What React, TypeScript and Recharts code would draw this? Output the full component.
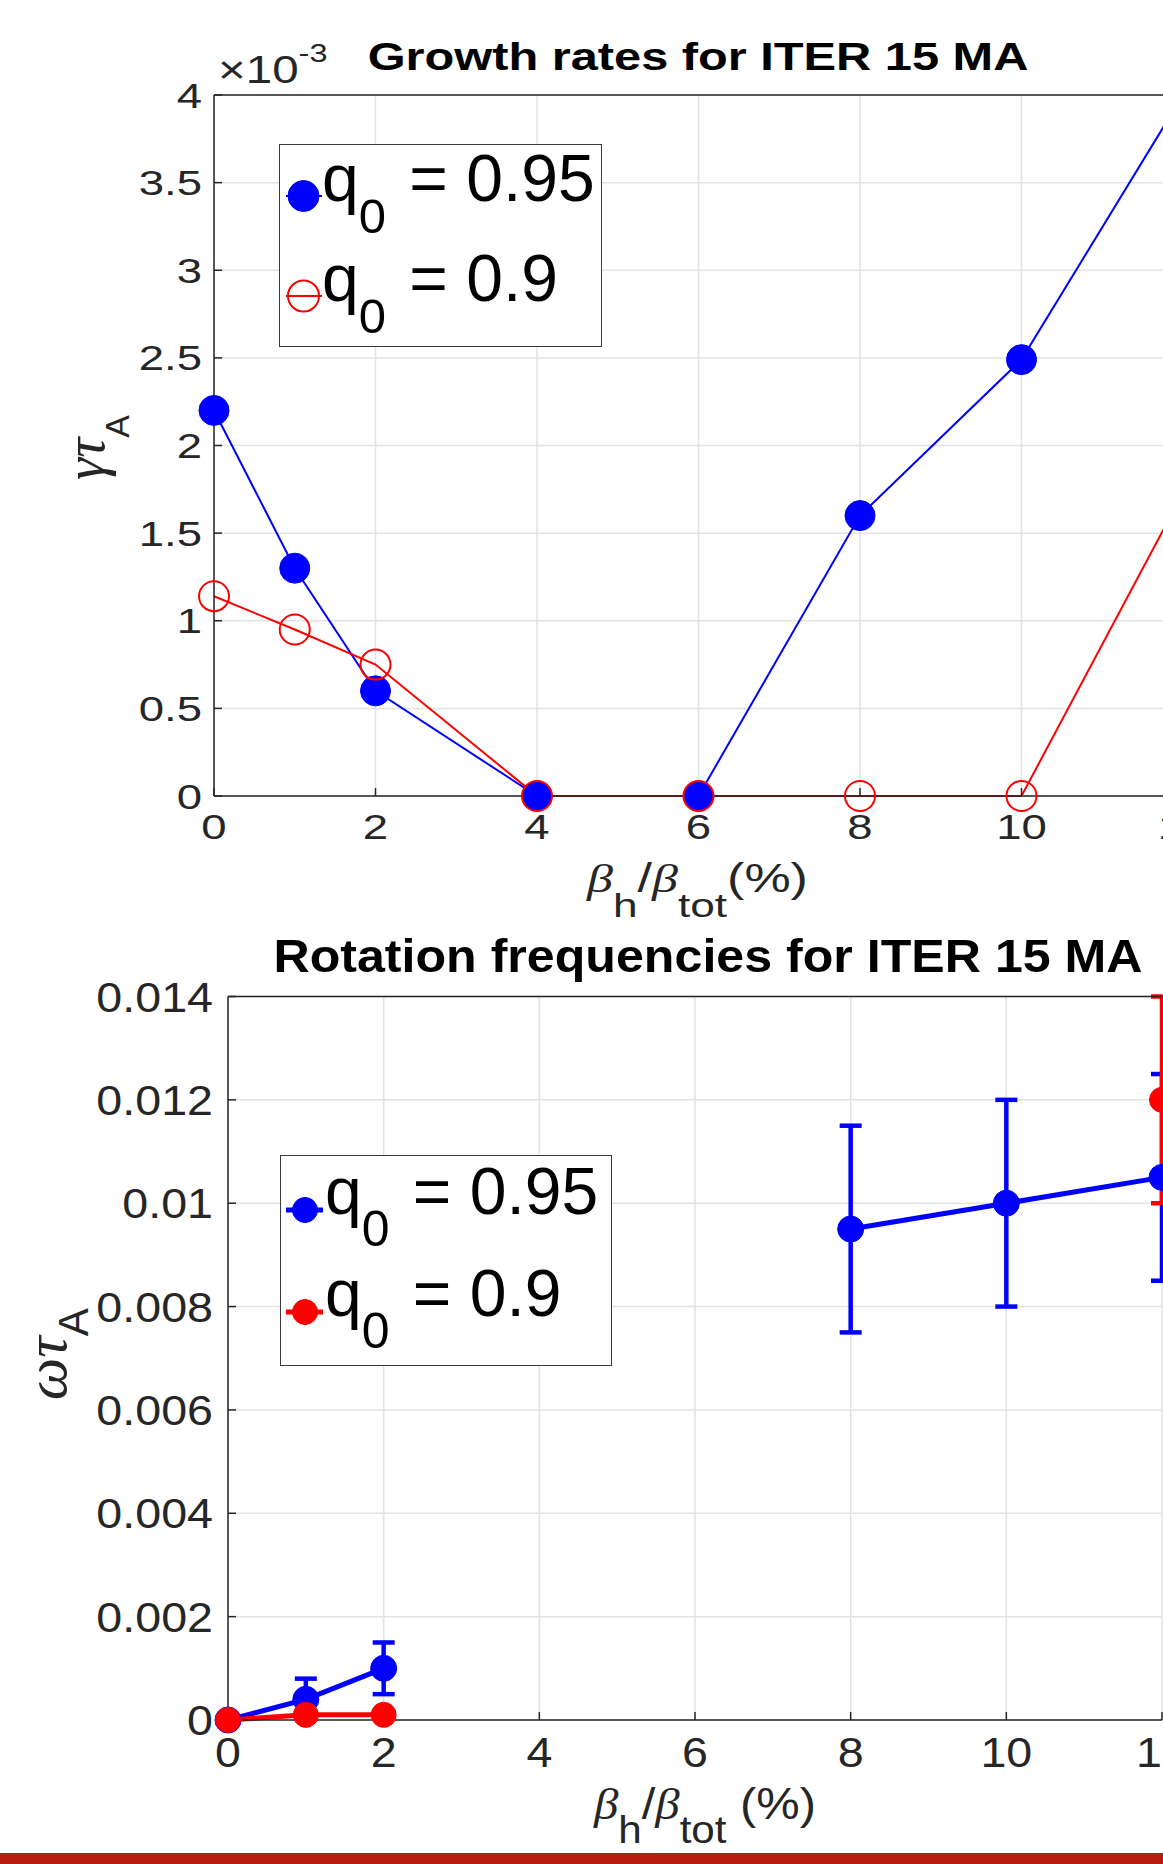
import { LineChart, Line, XAxis, YAxis, CartesianGrid, ErrorBar, Legend, Label } from "recharts";

const SANS = '"Liberation Sans", Arial, Helvetica, sans-serif';
const SERIF = '"Liberation Serif", "DejaVu Serif", serif';
const INK = "#262626";
const GRID = "#e3e3e3";
const BLUE = "#0000ff";
const RED = "#ff0000";

// growth rates (gamma * tau_A, in units of 1e-3)
const betaGrowth = [0, 1, 2, 4, 6, 8, 10, 12];
const gammaQ095 = [2.2, 1.3, 0.6, 0, 0, 1.6, 2.49, 4.0];
const gammaQ090 = [1.14, 0.95, 0.75, 0, 0, 0, 0, 1.73];

// rotation frequencies (omega * tau_A) with symmetric error bars
const betaRot = [0, 1, 2, 4, 6, 8, 10, 12];
const omegaQ095 = [0, 0.0004, 0.001, null, null, 0.0095, 0.01, 0.0105];
const omegaQ095Err = [0, 0.0004, 0.0005, null, null, 0.002, 0.002, 0.002];
const omegaQ090 = [0, 0.0001, 0.0001, null, null, null, null, 0.012];
const omegaQ090Err = [0, 0, 0, null, null, null, null, 0.002];

const xTicks = [0, 2, 4, 6, 8, 10, 12];
const gammaTicks = [0, 0.5, 1, 1.5, 2, 2.5, 3, 3.5, 4];
const omegaTicks = [0, 0.002, 0.004, 0.006, 0.008, 0.01, 0.012, 0.014];

const nameQ095 = "q_0 = 0.95";
const nameQ090 = "q_0 = 0.9";
const legendOrder = ["q095", "q090"];

const growthRows = betaGrowth.map((b, i) => ({ beta: b, q095: gammaQ095[i], q090: gammaQ090[i] }));
const rotRows = betaRot.map((b, i) => ({
  beta: b,
  q095: omegaQ095[i],
  q095Err: omegaQ095Err[i],
  q090: omegaQ090[i],
  q090Err: omegaQ090Err[i],
}));

const yTick = (size: number, sx: number, fmt: (v: number) => string) => (p: any) => (
  <g transform={`translate(${p.x},${p.y})`}>
    <text transform={`scale(${sx},1)`} textAnchor="end" dy="0.36em" fontSize={size} fontFamily={SANS} fill={INK}>
      {fmt(p.payload.value)}
    </text>
  </g>
);

const xTick = (size: number, sx: number) => (p: any) => (
  <g transform={`translate(${p.x},${p.y})`}>
    <text transform={`scale(${sx},1)`} textAnchor="middle" dy="0.72em" fontSize={size} fontFamily={SANS} fill={INK}>
      {p.payload.value}
    </text>
  </g>
);

const betaLabel = (dx: number, dy: number, size: number, sub: number, shift: number, sx: number, tail: string) => (p: any) => {
  const vb = p.viewBox || {};
  return (
    <g transform={`translate(${vb.x + dx},${vb.y + dy}) scale(${sx},1)`}>
      <text textAnchor="middle" fontSize={size} fontFamily={SANS} fill={INK} style={{ whiteSpace: "pre" }}>
        <tspan fontFamily={SERIF} fontStyle="italic">β</tspan>
        <tspan fontSize={sub} dy={shift}>h</tspan>
        <tspan dy={-shift}>/</tspan>
        <tspan fontFamily={SERIF} fontStyle="italic">β</tspan>
        <tspan fontSize={sub} dy={shift}>tot</tspan>
        <tspan dy={-shift}>{tail}</tspan>
      </text>
    </g>
  );
};

const yLabel = (greek: string, fromRight: number, dyc: number, size: number, sub: number, shift: number) => (p: any) => {
  const vb = p.viewBox || {};
  return (
    <g transform={`translate(${vb.x + vb.width - fromRight},${vb.y + vb.height / 2 + dyc}) rotate(-90)`}>
      <text textAnchor="middle" fontSize={size} fontFamily={SERIF} fill={INK}>
        <tspan fontStyle="italic">{greek}</tspan>
        <tspan fontFamily={SANS} fontSize={sub} dy={shift}>A</tspan>
      </text>
    </g>
  );
};

const titleLabel = (text: string, dx: number, dy: number, size: number, sx: number) => (p: any) => {
  const vb = p.viewBox || {};
  return (
    <g transform={`translate(${vb.x + dx},${vb.y + vb.height + dy}) scale(${sx},1)`}>
      <text textAnchor="middle" fontSize={size} fontWeight="bold" fontFamily={SANS} fill="#000">
        {text}
      </text>
    </g>
  );
};

const exponentLabel = (p: any) => {
  const vb = p.viewBox || {};
  return (
    <g transform={`translate(${vb.x + 4},${vb.y + vb.height - 12}) scale(1.25,1)`}>
      <text fontSize={38} fontFamily={SANS} fill={INK}>
        <tspan>×10</tspan>
        <tspan fontSize={26} dy={-21}>-3</tspan>
      </text>
    </g>
  );
};

const LegendText = ({ x, y, label, size, sub, shift }: any) => {
  const [base, rest] = label.split("_");
  const subChar = rest.slice(0, 1);
  const tail = rest.slice(1);
  return (
    <text x={x} y={y} fontSize={size} fontFamily={SANS} fill="#000" style={{ whiteSpace: "pre" }}>
      <tspan>{base}</tspan>
      <tspan fontSize={sub} dy={shift}>{subChar}</tspan>
      <tspan dy={-shift} dx={5}>{tail}</tspan>
    </text>
  );
};

const ordered = (payload: any[]) =>
  [...(payload || [])].sort((a, b) => legendOrder.indexOf(a.dataKey) - legendOrder.indexOf(b.dataKey));

const growthLegend = (props: any) => {
  const items = ordered(props.payload);
  return (
    <div style={{ width: 321, height: 201, border: "1.5px solid #3a3a3a", background: "#fff" }}>
      <svg width={321} height={201} style={{ overflow: "visible" }}>
        {items.map((it: any, i: number) => {
          const cy = 51 + i * 100;
          const filled = it.dataKey === "q095";
          return (
            <g key={it.value}>
              <line x1={6} x2={42} y1={cy} y2={cy} stroke={it.color} strokeWidth={2} />
              <circle cx={23.5} cy={cy} r={15.5} fill={filled ? it.color : "none"} stroke={it.color} strokeWidth={filled ? 1 : 2} />
              <LegendText x={42} y={cy + 5} label={it.value} size={66} sub={49} shift={32} />
            </g>
          );
        })}
      </svg>
    </div>
  );
};

const rotLegend = (props: any) => {
  const items = ordered(props.payload);
  return (
    <div style={{ width: 330, height: 209, border: "1.5px solid #3a3a3a", background: "#fff" }}>
      <svg width={330} height={209} style={{ overflow: "visible" }}>
        {items.map((it: any, i: number) => {
          const cy = 54 + i * 102;
          return (
            <g key={it.value}>
              <line x1={5} x2={42} y1={cy} y2={cy} stroke={it.color} strokeWidth={5} />
              <circle cx={24} cy={cy} r={12.5} fill={it.color} stroke={it.color} />
              <LegendText x={44} y={cy + 4} label={it.value} size={66} sub={50} shift={32} />
            </g>
          );
        })}
      </svg>
    </div>
  );
};

export default function App() {
  return (
    <div style={{ position: "relative", width: 1163, height: 1864, overflow: "hidden", background: "#fff" }}>
      <style>{"body{margin:0}"}</style>

      <div style={{ position: "absolute", left: 0, top: 0 }}>
        <LineChart width={1220} height={930} data={growthRows} margin={{ top: 94, right: 37, bottom: 0, left: 0 }}>
          <CartesianGrid stroke={GRID} strokeWidth={1.5} />
          <XAxis dataKey="beta" type="number" domain={[0, 12]} ticks={xTicks} interval={0} height={134}
            tickSize={-8} tickMargin={26} stroke={INK} strokeWidth={1.5} tick={xTick(35, 1.3)}>
            <Label content={betaLabel(483.5, 96, 40, 34, 25, 1.3, "(%)")} />
          </XAxis>
          <XAxis xAxisId="top" orientation="top" type="number" domain={[0, 12]} ticks={xTicks} interval={0} height={1}
            tickSize={-8} tick={false} stroke={INK} strokeWidth={1.5}>
            <Label content={titleLabel("Growth rates for ITER 15 MA", 484, -25, 39, 1.25)} />
            <Label content={exponentLabel} />
          </XAxis>
          <YAxis type="number" domain={[0, 4]} ticks={gammaTicks} interval={0} width={214}
            tickSize={-8} tickMargin={20} stroke={INK} strokeWidth={1.5} tick={yTick(35, 1.3, (v) => String(v))}>
            <Label content={yLabel("γτ", 110, 2, 56, 34, 25)} />
          </YAxis>
          <Line dataKey="q095" name={nameQ095} stroke={BLUE} strokeWidth={2}
            dot={{ r: 15, fill: BLUE, stroke: BLUE, strokeWidth: 1 }} isAnimationActive={false} />
          <Line dataKey="q090" name={nameQ090} stroke={RED} strokeWidth={2}
            dot={{ r: 15, fill: "none", stroke: RED, strokeWidth: 2 }} isAnimationActive={false} />
          <Legend layout="vertical" align="center" verticalAlign="middle" content={growthLegend}
            wrapperStyle={{ position: "absolute", left: 279, top: 144, width: 324, height: 204 }} />
        </LineChart>
      </div>

      <div style={{ position: "absolute", left: 0, top: 900 }}>
        <LineChart width={1190} height={964} data={rotRows} margin={{ top: 95.5, right: 28, bottom: 0, left: 0 }}>
          <CartesianGrid stroke={GRID} strokeWidth={1.5} />
          <XAxis dataKey="beta" type="number" domain={[0, 12]} ticks={xTicks} interval={0} height={144}
            tickSize={-8} tickMargin={25} stroke={INK} strokeWidth={1.5} tick={xTick(42, 1.11)}>
            <Label content={betaLabel(477, 99, 44, 38, 24, 1.11, " (%)")} />
          </XAxis>
          <XAxis xAxisId="top" orientation="top" type="number" domain={[0, 12]} ticks={xTicks} interval={0} height={1}
            tickSize={-8} tick={false} stroke={INK} strokeWidth={1.5}>
            <Label content={titleLabel("Rotation frequencies for ITER 15 MA", 480, -25, 46, 1.09)} />
          </XAxis>
          <YAxis type="number" domain={[0, 0.014]} ticks={omegaTicks} interval={0} width={228}
            tickSize={-8} tickMargin={23} stroke={INK} strokeWidth={1.5}
            tick={yTick(42, 1.11, (v) => String(+v.toFixed(3)))}>
            <Label content={yLabel("ωτ", 162, -4, 60, 42, 22)} />
          </YAxis>
          <Line dataKey="q095" name={nameQ095} stroke={BLUE} strokeWidth={5}
            dot={{ r: 13, fill: BLUE, stroke: BLUE, strokeWidth: 1 }} isAnimationActive={false}>
            <ErrorBar dataKey="q095Err" width={11} strokeWidth={4.5} stroke={BLUE} direction="y" />
          </Line>
          <Line dataKey="q090" name={nameQ090} stroke={RED} strokeWidth={5}
            dot={{ r: 12.5, fill: RED, stroke: RED, strokeWidth: 1 }} isAnimationActive={false}>
            <ErrorBar dataKey="q090Err" width={11} strokeWidth={4.5} stroke={RED} direction="y" />
          </Line>
          <Legend layout="vertical" align="center" verticalAlign="middle" content={rotLegend}
            wrapperStyle={{ position: "absolute", left: 280, top: 255, width: 333, height: 212 }} />
        </LineChart>
      </div>

      <div style={{ position: "absolute", left: 0, top: 1853, width: 1163, height: 11, background: "#b71c0c" }} />
    </div>
  );
}
